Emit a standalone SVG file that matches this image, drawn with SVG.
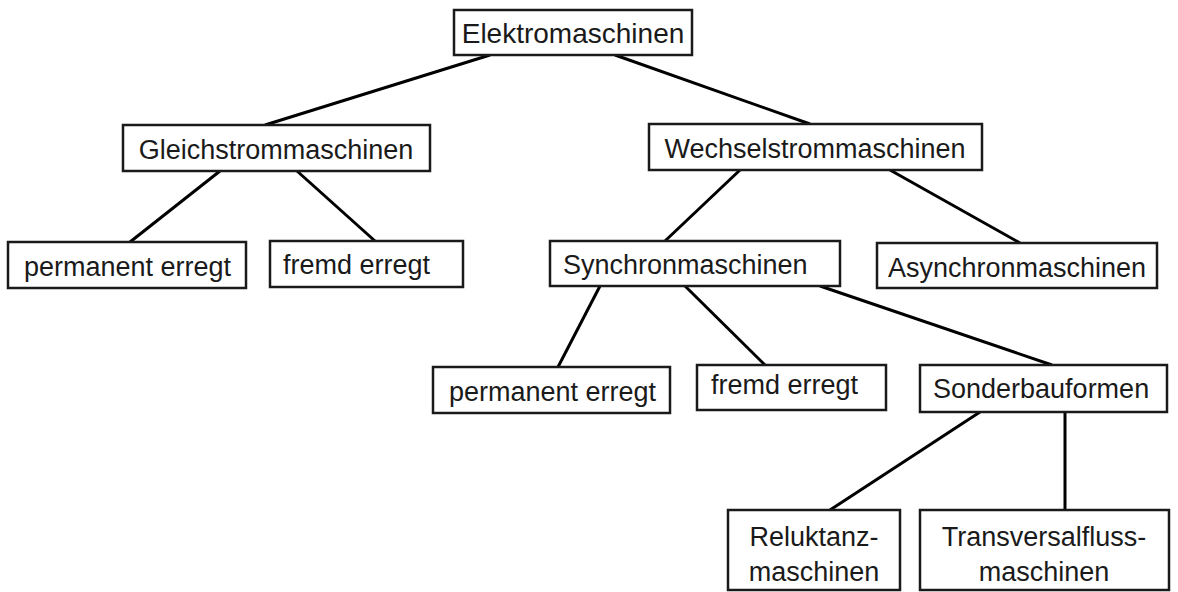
<svg xmlns="http://www.w3.org/2000/svg" width="1178" height="592" viewBox="0 0 1178 592">
<style>
rect{fill:#fff;stroke:#1a1a1a;stroke-width:2.5}
text{font-family:"Liberation Sans",Arial,sans-serif;font-size:27px;fill:#1a1a1a}
.big{font-size:28px}
.c line{stroke:#000;stroke-width:3}
</style>
<rect x="0" y="0" width="1178" height="592" style="stroke:none"/>
<g class="c" id="connectors">
<line x1="490" y1="55" x2="265" y2="125"/>
<line x1="615" y1="55" x2="810" y2="124"/>
<line x1="220" y1="171" x2="130" y2="242"/>
<line x1="297" y1="171" x2="375" y2="241"/>
<line x1="740" y1="170" x2="665" y2="241"/>
<line x1="890" y1="170" x2="1020" y2="243"/>
<line x1="600" y1="286" x2="558" y2="367"/>
<line x1="685" y1="286" x2="765" y2="365"/>
<line x1="820" y1="286" x2="1052" y2="365"/>
<line x1="980" y1="412" x2="830" y2="510"/>
<line x1="1065" y1="412" x2="1065" y2="510"/>
</g>
<g id="n-elektro"><rect x="454" y="10" width="238" height="45"/><text class="big" x="573" y="43" text-anchor="middle">Elektromaschinen</text></g>
<g id="n-gleich"><rect x="123" y="125" width="307" height="46"/><text x="276" y="159" text-anchor="middle">Gleichstrommaschinen</text></g>
<g id="n-wechsel"><rect x="649" y="124" width="333" height="46"/><text x="815" y="158" text-anchor="middle">Wechselstrommaschinen</text></g>
<g id="n-perm1"><rect x="8" y="242" width="238" height="46"/><text x="24" y="276">permanent erregt</text></g>
<g id="n-fremd1"><rect x="270" y="241" width="193" height="46"/><text x="283" y="274">fremd erregt</text></g>
<g id="n-synchron"><rect x="550" y="241" width="290" height="45"/><text x="563" y="274">Synchronmaschinen</text></g>
<g id="n-asynchron"><rect x="877" y="243" width="280" height="45"/><text x="888" y="277">Asynchronmaschinen</text></g>
<g id="n-perm2"><rect x="433" y="367" width="237" height="46"/><text x="449" y="401">permanent erregt</text></g>
<g id="n-fremd2"><rect x="697" y="365" width="189" height="45"/><text x="711" y="394">fremd erregt</text></g>
<g id="n-sonder"><rect x="920" y="365" width="247" height="47"/><text x="933" y="398">Sonderbauformen</text></g>
<g id="n-reluktanz"><rect x="728" y="510" width="172" height="80"/><text x="814" y="546" text-anchor="middle">Reluktanz-</text><text x="814" y="581" text-anchor="middle">maschinen</text></g>
<g id="n-transversal"><rect x="920" y="510" width="249" height="80"/><text x="1044" y="546" text-anchor="middle">Transversalfluss-</text><text x="1044" y="581" text-anchor="middle">maschinen</text></g>
</svg>
